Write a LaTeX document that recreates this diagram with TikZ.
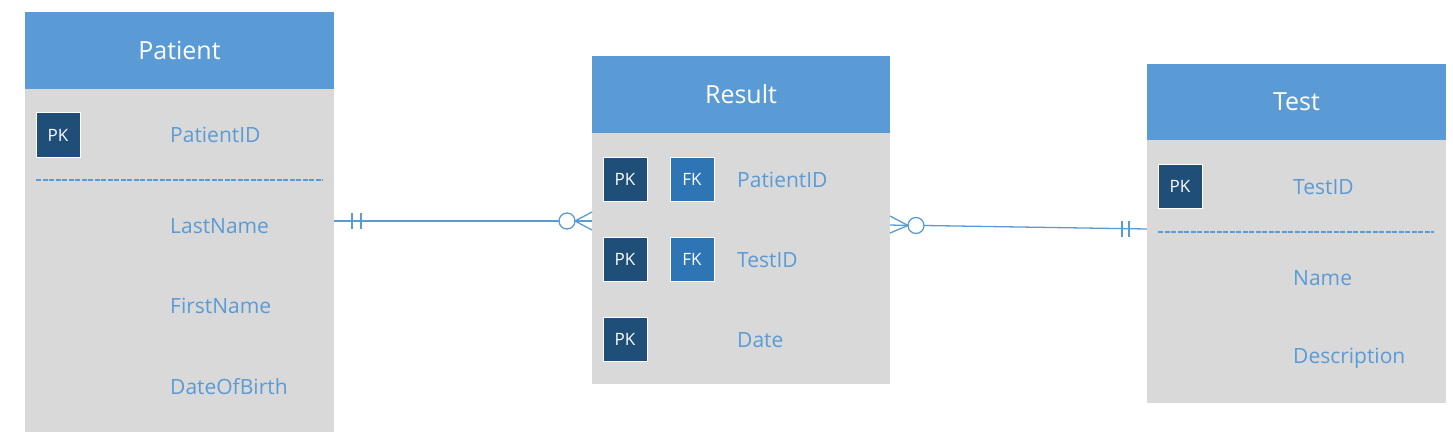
\documentclass[tikz,border=0pt]{standalone}
\usepackage{fontspec}
\setmainfont{Open Sans}
\usetikzlibrary{calc}
\definecolor{hdrblue}{HTML}{5B9BD5}
\definecolor{bodygray}{HTML}{D9D9D9}
\definecolor{pkblue}{HTML}{1F4E79}
\definecolor{fkblue}{HTML}{2E75B6}
\definecolor{txtblue}{HTML}{5B9BD5}
\begin{document}
\begin{tikzpicture}[x=1pt,y=-1pt,
  hdr/.style={fill=hdrblue, text=white, inner sep=0pt, outer sep=0pt, anchor=north west, font=\fontsize{25}{28}\selectfont},
  bodybox/.style={fill=bodygray, inner sep=0pt, outer sep=0pt, anchor=north west},
  field/.style={text=txtblue, anchor=west, inner sep=0pt, font=\fontsize{21}{24}\selectfont},
  pkbox/.style={fill=pkblue, draw=white, line width=1pt, text=white, minimum size=44pt, inner sep=0pt, font=\fontsize{17}{19}\selectfont},
  fkbox/.style={pkbox, fill=fkblue},
  sep/.style={draw=hdrblue, line width=1.3pt, dashed, dash pattern=on 5pt off 1.5pt},
  conn/.style={draw=hdrblue, line width=1.3pt}
]
\useasboundingbox (0,0) rectangle (1453,441);
\fill[white] (0,0) rectangle (1453,441);

% Patient
\node[bodybox, minimum width=309pt, minimum height=343pt] (pB) at (25,89) {};
\node[hdr, minimum width=309pt, minimum height=77pt] (pH) at (25,12) {Patient};
\node[pkbox] (pPK) at (58,135) {PK};
\node[field] (pF1) at (170,135) {PatientID};
\draw[sep] (36,180) -- (323,180);
\node[field] (pF2) at (170,226) {LastName};
\node[field] (pF3) at (170,306) {FirstName};
\node[field] (pF4) at (170,387) {DateOfBirth};

% Result
\node[bodybox, minimum width=298pt, minimum height=251pt] (rB) at (592,133) {};
\node[hdr, minimum width=298pt, minimum height=77pt] (rH) at (592,56) {Result};
\node[pkbox] (rPK1) at (625,179) {PK};
\node[fkbox] (rFK1) at (692,179) {FK};
\node[field] (rF1) at (737,180) {PatientID};
\node[pkbox] (rPK2) at (625,259) {PK};
\node[fkbox] (rFK2) at (692,259) {FK};
\node[field] (rF2) at (737,260) {TestID};
\node[pkbox] (rPK3) at (625,339) {PK};
\node[field] (rF3) at (737,340) {Date};

% Test
\node[bodybox, minimum width=299pt, minimum height=263pt] (tB) at (1147,140) {};
\node[hdr, minimum width=299pt, minimum height=76pt] (tH) at (1147,64) {Test};
\node[pkbox] (tPK) at (1180,186) {PK};
\node[field] (tF1) at (1293,187) {TestID};
\draw[sep] (1158,232) -- (1434,232);
\node[field] (tF2) at (1293,278) {Name};
\node[field] (tF3) at (1293,358) {Description};

% Connector Patient -- Result
\coordinate (a1) at (pB.east |- 0,221);
\coordinate (b1) at (rB.west |- 0,221);
\coordinate (o1) at ($(b1)+(-25,0)$);
\draw[conn] (a1) -- ($(o1)+(-8,0)$);
\draw[conn] ($(o1)+(8,0)$) -- (b1);
\draw[conn] (o1) circle (8pt);
\draw[conn] ($(a1)+(18,-8)$) -- ($(a1)+(18,8)$);
\draw[conn] ($(a1)+(27,-8)$) -- ($(a1)+(27,8)$);
\draw[conn] ($(b1)+(0,-9)$) -- ($(o1)+(8,0)$) -- ($(b1)+(0,9)$);

% Connector Result -- Test
\coordinate (a2) at (rB.east |- 0,225);
\coordinate (b2) at (tB.west |- 0,229);
\coordinate (o2) at ($(a2)+(26,0.5)$);
\draw[conn] (a2) -- ($(o2)+(-8,0)$);
\draw[conn] ($(o2)+(8,0)$) -- (b2);
\draw[conn] (o2) circle (8pt);
\draw[conn] ($(a2)+(0,-9)$) -- ($(o2)+(-8,0)$) -- ($(a2)+(0,8)$);
\draw[conn] ($(b2)+(-25,-8)$) -- ($(b2)+(-25,8)$);
\draw[conn] ($(b2)+(-18,-8)$) -- ($(b2)+(-18,8)$);
\end{tikzpicture}
\end{document}
